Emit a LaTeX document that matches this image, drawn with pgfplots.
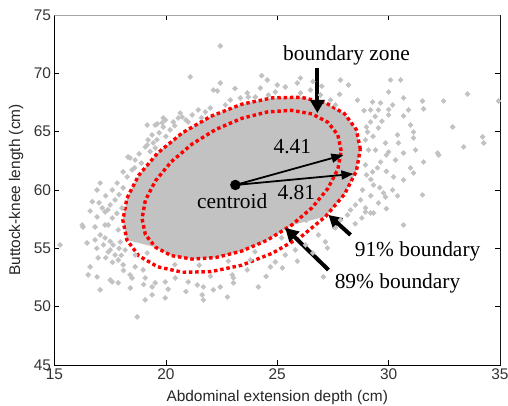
\documentclass[border=0pt]{standalone}
\usepackage{fontspec}
\setmainfont{Liberation Sans}
\newfontfamily\tnr{Liberation Serif}
\usepackage{pgfplots}
\pgfplotsset{compat=1.18}
\usetikzlibrary{arrows.meta}
\definecolor{cloud}{RGB}{194,194,194}

\begin{document}
\begin{tikzpicture}
\begin{axis}[
  scale only axis, width=445.5bp, height=350bp,
  xmin=15, xmax=35, ymin=45, ymax=75,
  xtick={15,20,25,30,35}, ytick={45,50,55,60,65,70,75},
  tick align=inside, major tick length=5bp,
  axis line style={black},
  tick style={black, line width=0.6bp},
  /pgf/number format/assume math mode=true,
  tick label style={font=\fontsize{15.5}{18}\selectfont, text=black!80},
  xlabel={Abdominal extension depth (cm)},
  ylabel={Buttock-knee length (cm)},
  label style={font=\fontsize{15.5}{18}\selectfont, text=black!85},
  xlabel style={at={(axis description cs:0.5,-0.1029)}, anchor=base},
  ylabel style={at={(axis description cs:-0.0864,0.5)}, anchor=center},
]
% dense core of the cloud
\addplot[draw=none, fill=cloud] coordinates {
(27.17,57.73) (28.02,59.64) (28.55,61.61) (28.73,63.50) (28.55,65.18)
(28.02,66.54) (27.17,67.48) (26.07,67.95) (24.78,67.90) (23.4,67.35)
(22.02,66.32) (20.74,64.90) (19.63,63.17) (18.78,61.26) (18.25,59.29)
(18.07,57.40) (18.25,55.72) (19.53,55.10) (20.24,54.38) (21.17,54.08)
(22.24,54.21) (23.4,54.76) (24.56,55.71) (25.64,56.98) (27.17,57.73)};

% scattered subjects outside the core
\addplot[only marks, cloud, mark=square*, mark size=1.8bp, mark options={rotate=45}] coordinates {
(22.44,72.34) (21.09,69.69) (22.44,69.17) (22.31,68.49) (23.65,68.32)
(23.70,67.97) (23.34,67.89) (22.13,68.57) (20.64,66.60) (20.73,66.26)
(19.88,66.17) (19.61,65.66) (19.16,65.57) (21.45,66.86) (21.18,66.43)
(20.55,66.17) (20.33,65.83) (19.97,66.00) (19.83,65.75) (19.52,65.57)
(19.88,65.40) (19.38,64.72) (19.20,64.29) (19.16,63.86) (19.43,64.03)
(19.52,63.60) (19.07,63.69) (18.39,62.75) (18.62,62.57) (18.30,62.83)
(18.08,61.55) (18.26,61.12) (18.48,61.72) (17.05,60.60) (16.91,60.00)
(17.81,60.60) (18.08,60.18) (17.72,59.15) (17.50,58.72) (17.14,58.46)
(17.27,58.12) (16.91,57.69) (18.03,58.46) (20.19,65.15) (21.00,65.83)
(16.28,56.83) (16.82,56.83) (17.27,57.00) (17.59,57.60) (16.82,55.72)
(16.46,55.46) (15.25,55.29) (17.27,55.89) (17.50,54.86) (17.72,54.43)
(16.96,54.18) (17.41,54.69) (16.60,53.41) (16.51,52.72) (16.91,52.55)
(17.59,52.12) (17.86,52.04) (18.08,53.58) (18.39,52.72) (18.62,53.41)
(18.98,53.15) (19.07,52.46) (19.52,52.04) (19.97,52.12) (19.38,51.69)
(19.38,51.01) (19.07,50.58) (19.97,50.75) (18.71,49.12) (21.00,52.12)
(21.41,51.86) (21.63,51.01) (21.68,50.58) (20.42,52.46) (18.48,52.46)
(17.95,55.55) (16.24,57.00) (17.05,51.44) (17.50,52.29) (22.13,51.44)
(22.76,50.83) (23.03,52.46) (21.68,51.69) (22.44,51.69) (23.03,52.04)
(24.15,51.69) (23.65,53.15) (22.98,52.72) (24.69,53.41) (25.23,53.32)
(25.36,54.43) (27.16,55.55) (27.25,55.03) (27.07,52.55) (24.91,53.83)
(23.79,54.00) (28.96,58.12) (29.32,58.03) (30.67,57.00) (28.15,57.86)
(33.54,68.23) (32.47,67.63) (31.52,67.63) (30.67,67.89) (30.00,68.40)
(29.28,67.54) (29.64,67.46) (30.18,67.29) (29.19,66.86) (29.54,66.86)
(30.89,66.86) (31.57,66.95) (30.00,66.43) (30.67,66.35) (29.19,65.83)
(30.98,65.57) (29.54,65.32) (29.05,64.97) (31.12,64.97) (30.40,64.72)
(31.12,64.46) (29.86,64.03) (30.44,64.03) (31.21,63.43) (30.00,63.26)
(30.67,63.17) (29.41,63.43) (32.20,63.17) (31.57,62.40) (30.31,62.57)
(29.64,62.40) (30.98,61.89) (28.96,62.15) (29.28,61.55) (30.22,61.12)
(30.67,60.86) (29.32,60.43) (30.18,60.00) (31.52,59.58) (29.86,59.40)
(29.54,58.89) (28.96,58.46) (29.19,58.03) (32.88,65.40) (33.37,63.69)
(34.22,64.55) (34.27,64.03) (30.54,69.43) (30.09,69.43) (27.84,69.43)
(28.20,69.00) (26.04,69.60) (25.90,69.17) (24.55,69.43) (34.93,67.63)
(32.25,63.00) (31.12,61.46) (29.77,59.75)
(24.24,68.74) (24.91,68.40) (25.36,68.83) (26.49,68.57) (26.94,68.14)
(27.39,67.72) (27.61,67.29) (26.04,68.32) (24.60,68.14) (24.01,67.97)
(22.89,67.72) (22.67,67.29) (21.99,67.03) (21.77,66.69)
(28.96,64.29) (29.10,63.43) (29.01,61.29) (28.83,60.00) (28.74,59.15)
(28.51,58.72) (28.29,58.29) (27.84,57.43) (27.61,56.75) (26.85,56.15)
(26.27,55.29) (25.81,54.86)
(17.59,60.00) (17.41,57.00) (17.86,56.58) (17.05,56.15) (17.63,55.29)
(17.86,54.00) (18.17,54.86) (18.62,54.43)
(19.16,54.60) (20.40,53.60) (21.50,53.55) (22.80,53.90) (24.00,54.70)
(25.20,55.90) (26.30,57.40)
(17.00,58.90) (17.40,58.30) (17.80,58.00) (16.60,58.20) (17.90,59.60)
(17.30,59.50) (16.70,59.00) (17.20,55.30) (17.50,55.60) (17.90,55.00)
(17.30,54.20) (17.60,53.80) (18.00,54.40) (16.90,55.00) (18.10,53.10)
(19.70,64.90) (20.00,64.60) (20.40,65.50) (20.90,66.00) (21.60,66.20)
(19.30,63.30) (18.90,62.30) (18.60,61.90) (18.80,63.10) (19.60,64.30)
(29.30,64.60) (29.70,65.90) (29.90,63.00) (29.50,61.90) (29.90,61.60)
(29.20,60.90) (29.60,60.20) (30.40,59.50) (29.20,59.50) (29.90,58.40)
(28.80,57.60) (28.50,57.10) (30.00,66.90) (29.40,66.30) (29.00,65.40)
(25.00,69.00) (23.10,68.70) (27.00,68.90) (27.80,68.20) (28.60,67.70)
(28.90,66.80) (24.30,69.80) (26.60,69.30)
(20.10,51.50) (20.90,51.30) (22.00,52.60) (24.50,52.60) (25.90,53.90)
(26.60,54.60) (19.00,51.90) (18.40,51.60)};

% 91% boundary (outer)
\addplot[red, line width=3.4bp, dash pattern=on 3.5bp off 2.8bp] coordinates {
(28.73,63.50) (28.55,65.18) (28.02,66.54) (27.17,67.48) (26.07,67.95)
(24.78,67.90) (23.4,67.35) (22.02,66.32) (20.74,64.90) (19.63,63.17)
(18.78,61.26) (18.25,59.29) (18.07,57.40) (18.25,55.72) (18.78,54.36)
(19.63,53.42) (20.74,52.95) (22.02,53.00) (23.4,53.55) (24.78,54.58)
(26.07,56.00) (27.17,57.73) (28.02,59.64) (28.55,61.61) (28.73,63.50)};

% 89% boundary (inner)
\addplot[red, line width=3.4bp, dash pattern=on 3.5bp off 2.8bp] coordinates {
(27.87,63.35) (27.72,64.72) (27.27,65.81) (26.56,66.52) (25.64,66.83)
(24.56,66.69) (23.4,66.14) (22.24,65.19) (21.17,63.93) (20.24,62.42)
(19.53,60.78) (19.08,59.12) (18.93,57.55) (19.08,56.18) (19.53,55.10)
(20.24,54.38) (21.17,54.08) (22.24,54.21) (23.4,54.76) (24.56,55.71)
(25.64,56.98) (26.56,58.48) (27.27,60.12) (27.72,61.78) (27.87,63.35)};

% centroid
\addplot[only marks, black, mark=*, mark size=5bp] coordinates {(23.12,60.43)};

\draw[line width=1.8bp, -{Triangle[length=12bp,width=9bp]}] (axis cs:23.12,60.43) -- (axis cs:27.97,63.00);
\draw[line width=1.8bp, -{Triangle[length=12bp,width=9bp]}] (axis cs:23.12,60.43) -- (axis cs:28.42,61.38);
\draw[line width=4bp, -{Triangle[length=13bp,width=14bp]}] (axis cs:26.80,70.46) -- (axis cs:26.80,66.60);
\draw[line width=4bp, -{Triangle[length=13bp,width=14bp]}] (axis cs:28.29,56.15) -- (axis cs:27.30,57.86);
\draw[line width=4bp, -{Triangle[length=13bp,width=14bp]}] (axis cs:27.30,53.15) -- (axis cs:25.36,56.75);

\node[font=\tnr\fontsize{21.5}{24}\selectfont, anchor=base, fill=white, inner sep=2bp] at (axis cs:28.11,71.06) {boundary zone};
\node[font=\tnr\fontsize{21.5}{24}\selectfont, anchor=base, inner sep=0pt] at (axis cs:25.68,63.09) {4.41};
\node[font=\tnr\fontsize{21.5}{24}\selectfont, anchor=base, inner sep=0pt] at (axis cs:25.86,59.15) {4.81};
\node[font=\tnr\fontsize{21.5}{24}\selectfont, anchor=base, inner sep=0pt] at (axis cs:22.98,58.38) {centroid};
\node[font=\tnr\fontsize{21.5}{24}\selectfont, anchor=base, fill=white, inner sep=2bp] at (axis cs:31.30,54.26) {91\% boundary};
\node[font=\tnr\fontsize{21.5}{24}\selectfont, anchor=base, fill=white, inner sep=2bp] at (axis cs:30.40,51.52) {89\% boundary};

% lighter top and right frame, as in the original
\draw[gray!70, line width=0.8bp] (rel axis cs:0,1) -- (rel axis cs:1,1) -- (rel axis cs:1,0);
\end{axis}
\pgfresetboundingbox
\path[use as bounding box] ([shift={(-54.5bp,-41bp)}]current axis.south west) rectangle ([shift={(8bp,15bp)}]current axis.north east);
\end{tikzpicture}
\end{document}
